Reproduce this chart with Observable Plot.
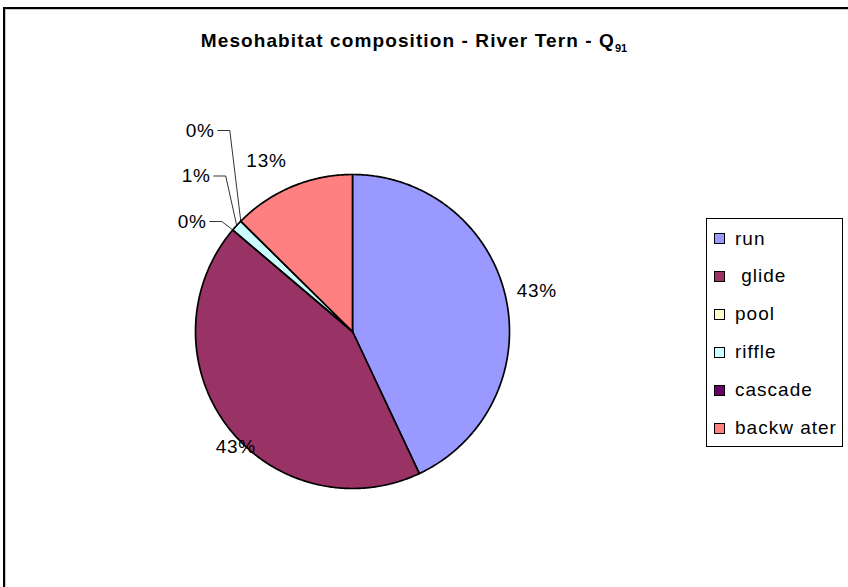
<!DOCTYPE html>
<html><head><meta charset="utf-8">
<script src="https://cdn.jsdelivr.net/npm/d3@7"></script>
<script src="https://cdn.jsdelivr.net/npm/@observablehq/plot@0.6"></script>
<style>
body{margin:0;background:#fff;}
#wrap{position:relative;width:848px;height:587px;overflow:hidden;font-family:Arial,"Liberation Sans",sans-serif;background:#fff;}
#frame{position:absolute;left:3px;top:7px;width:900px;height:700px;border:2px solid #000;box-shadow:inset 1px 1px 0 #c8c8c8;}
#chart{position:absolute;left:0;top:0;}
#chart svg text{letter-spacing:0.8px;}
#title{position:absolute;left:0;width:828px;top:30px;text-align:center;font-weight:bold;font-size:19px;letter-spacing:1.1px;color:#000;}
#title sub{font-size:11px;vertical-align:-5px;letter-spacing:0;}
#legend{position:absolute;left:706px;top:218px;width:137px;height:229px;border:1px solid #000;box-sizing:border-box;background:#fff;}
.item{position:absolute;left:7px;height:22px;display:flex;align-items:center;font-size:19px;letter-spacing:1px;white-space:pre;}
.sw{width:9px;height:9px;border:1px solid #000;margin-right:10px;flex:none;}
</style>
</head><body>
<div id="wrap">
  <div id="frame"></div>
  <div id="chart"></div>
  <div id="title">Mesohabitat composition - River Tern - Q<sub>91</sub></div>
  <div id="legend"></div>
</div>
<script>
// ---- data ----
const categories = ["run", "glide", "pool", "riffle", "cascade", "backwater"];
const legendLabels = ["run", " glide", "pool", "riffle", "cascade", "backw ater"];
const values = [43.0, 43.2, 0, 1.2, 0, 12.6];
const colors = ["#9999FF", "#993366", "#FFFFCC", "#CCFFFF", "#660066", "#FF8080"];

// ---- layout ----
const W = 848, H = 587, CX = 352, CY = 331, R = 157;
const bigLabelOffset = [[25, -5], [13, 16], null, null, null, [-23, -20]]; // px nudges of label box from anchor
const smallRankSpacing = 45.5;

const toData = (px, py) => [(px - CX) / R, (CY - py) / R];
const pie = d3.pie().sort(null).value(d => d)(values);

function polygon(s) {
  const pts = [{x: 0, y: 0}];
  const n = Math.max(2, Math.ceil((s.endAngle - s.startAngle) / (Math.PI / 360)));
  for (let k = 0; k <= n; k++) {
    const a = s.startAngle + (s.endAngle - s.startAngle) * k / n;
    pts.push({x: Math.sin(a), y: Math.cos(a)});
  }
  return pts;
}

const marks = [];
pie.forEach((s, i) => {
  marks.push(Plot.line(polygon(s), {x: "x", y: "y", fill: colors[i], stroke: "black", strokeWidth: 1.7, strokeLinejoin: "round", curve: "linear-closed"}));
});

// labels
const bigLabels = [];
const small = [];
pie.forEach((s, i) => {
  const pct = Math.round(values[i]) + "%";
  const mid = (s.startAngle + s.endAngle) / 2;
  if (bigLabelOffset[i]) {
    const ax = CX + R * 1.04 * Math.sin(mid), ay = CY - R * 1.04 * Math.cos(mid);
    const [x, y] = toData(ax + bigLabelOffset[i][0], ay + bigLabelOffset[i][1]);
    bigLabels.push({x, y, text: pct});
  } else {
    small.push({i, mid, pct});
  }
});
const leaderLines = [];
const smallLabels = [];
small.forEach((d, rank) => {
  const ex = CX + R * Math.sin(d.mid), ey = CY - R * Math.cos(d.mid);
  const elbowX = ex - 11;
  const ly = 221 - smallRankSpacing * rank;
  const pts = [toData(ex, ey), toData(elbowX, ly), toData(elbowX - 12, ly)].map(([x, y]) => ({x, y, k: d.i}));
  leaderLines.push(...pts);
  const [tx, ty] = toData(elbowX - 15, ly);
  smallLabels.push({x: tx, y: ty, text: d.pct});
});

marks.push(Plot.line(leaderLines, {x: "x", y: "y", z: "k", stroke: "black", strokeWidth: 0.8}));
marks.push(Plot.text(bigLabels, {x: "x", y: "y", text: "text", fontSize: 19, fill: "black", textAnchor: "middle"}));
marks.push(Plot.text(smallLabels, {x: "x", y: "y", text: "text", fontSize: 19, fill: "black", textAnchor: "end"}));

const chart = Plot.plot({
  width: W, height: H, margin: 0,
  style: {background: "transparent", fontFamily: "Arial, 'Liberation Sans', sans-serif"},
  x: {domain: [-1, 1], range: [CX - R, CX + R], axis: null},
  y: {domain: [-1, 1], range: [CY + R, CY - R], axis: null},
  marks
});
document.getElementById("chart").appendChild(chart);

// legend
const leg = document.getElementById("legend");
categories.forEach((c, i) => {
  const it = document.createElement("div");
  it.className = "item";
  it.style.top = (8.5 + 37.9 * i) + "px";
  const sw = document.createElement("span");
  sw.className = "sw";
  sw.style.background = colors[i];
  it.appendChild(sw);
  it.appendChild(document.createTextNode(legendLabels[i]));
  leg.appendChild(it);
});
</script>
</body></html>
